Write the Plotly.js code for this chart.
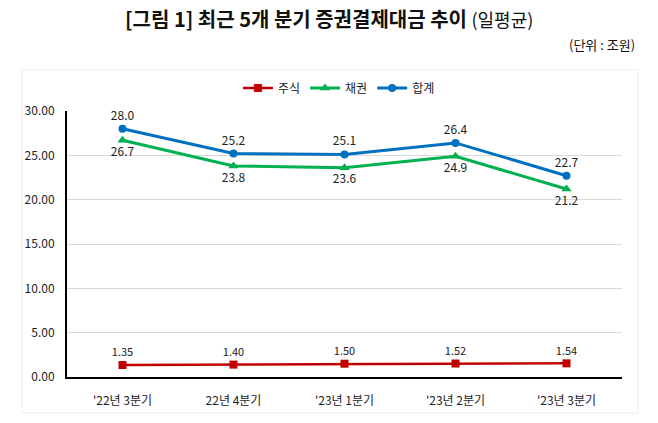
<!DOCTYPE html>
<html><head><meta charset="utf-8">
<script src="https://cdn.plot.ly/plotly-3.0.1.min.js"></script>
<style>html,body{margin:0;padding:0;background:#fff}</style>
</head><body><div id="c" style="width:658px;height:423px"></div>
<script>
const categories = ["'22년 3분기", "22년 4분기", "'23년 1분기", "'23년 2분기", "'23년 3분기"];
const stock = [1.35, 1.40, 1.50, 1.52, 1.54];
const bond = [26.7, 23.8, 23.6, 24.9, 21.2];
const total = [28.0, 25.2, 25.1, 26.4, 22.7];
const stockLabels = ["1.35", "1.40", "1.50", "1.52", "1.54"];
const bondLabels = bond.map(v => v.toFixed(1));
const totalLabels = total.map(v => v.toFixed(1));

const F = "Noto Sans CJK KR, sans-serif";
const traces = [
  {x: categories, y: stock, name: '주식', mode: 'lines+markers+text', text: stockLabels,
   textposition: 'top center', line: {color: '#C00000', width: 2.5},
   marker: {symbol: 'square', size: 8, color: '#C00000'}, textfont: {size: 11, color: '#222'}, cliponaxis: false},
  {x: categories, y: bond, name: '채권', mode: 'lines+markers+text', text: bondLabels,
   textposition: 'bottom center', line: {color: '#00B050', width: 3},
   marker: {symbol: 'triangle-up', size: 9, color: '#00B050'}, textfont: {size: 12, color: '#222'}, cliponaxis: false},
  {x: categories, y: total, name: '합계', mode: 'lines+markers+text', text: totalLabels,
   textposition: 'top center', line: {color: '#0070C0', width: 3},
   marker: {symbol: 'circle', size: 8, color: '#0070C0'}, textfont: {size: 12, color: '#222'}, cliponaxis: false}
];

const layout = {
  width: 658, height: 423,
  margin: {l: 67, r: 36, t: 111, b: 46},
  paper_bgcolor: '#fff', plot_bgcolor: '#fff',
  font: {family: F, size: 12, color: '#222'},
  showlegend: true,
  legend: {orientation: 'h', x: 0.49, xanchor: 'center', y: 1.086, yanchor: 'middle',
           font: {size: 12, color: '#222'}, itemwidth: 30, tracegroupgap: 0},
  xaxis: {type: 'category', range: [-0.5, 4.5], showgrid: false, showline: true, linecolor: '#000', linewidth: 2,
          ticks: '', tickfont: {size: 12, color: '#222'}, ticklabelstandoff: 12, fixedrange: true},
  yaxis: {range: [0, 30], dtick: 5, tickformat: '.2f', showgrid: true, gridcolor: '#d9d9d9',
          gridwidth: 1, showline: true, linecolor: '#000', linewidth: 2, ticks: '',
          zeroline: false, tickfont: {size: 12, color: '#222'}, ticklabelstandoff: 8},
  shapes: [
    {type: 'rect', xref: 'paper', yref: 'paper', x0: -0.081, x1: 1.029, y0: -0.135, y1: 1.154,
     line: {color: '#ececec', width: 1}, layer: 'below'}
  ],
  annotations: [
    {xref: 'paper', yref: 'paper', x: (329 - 67) / 555, y: (377 - 19) / 266, xanchor: 'center', yanchor: 'middle',
     showarrow: false, text: '<b>[그림 1] 최근 5개 분기 증권결제대금 추이</b> <span style="font-size:18px">(일평균)</span>',
     font: {size: 20, color: '#111', family: F}},
    {xref: 'paper', yref: 'paper', x: (637 - 67) / 555, y: (377 - 45) / 266, xanchor: 'right', yanchor: 'middle',
     showarrow: false, text: '(단위 : 조원)', font: {size: 13, color: '#111', family: F}}
  ]
};
Plotly.newPlot('c', traces, layout, {displayModeBar: false, staticPlot: true});
</script></body></html>
